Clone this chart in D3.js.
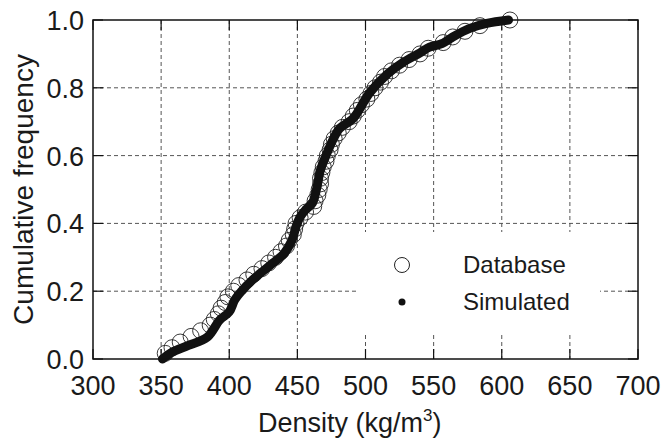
<!DOCTYPE html>
<html>
<head>
<meta charset="utf-8">
<script src="https://cdn.jsdelivr.net/npm/d3@7"></script>
<style>
  body { margin: 0; background: #fff; }
  text { font-family: "Liberation Sans", Arial, sans-serif; fill: #1a1a1a; }
  .grid line { stroke: #555; stroke-width: 1; stroke-dasharray: 4,3; }
</style>
</head>
<body>
<div id="chart"></div>
<script>
//-----------DATA ---------------------------//
// database samples: density (kg/m3), plotted against i/n
var databaseDensity = [353, 358, 364, 372, 379, 386, 389, 392, 394, 397,
                       399, 403, 407, 413, 418, 424, 429, 434, 438, 442,
                       444, 447, 448, 449, 452, 456, 462, 463, 465, 466,
                       467, 467, 468, 469, 471, 472, 474, 475, 477, 480,
                       483, 488, 491, 494, 497, 501, 504, 507, 511, 514,
                       519, 525, 532, 540, 546, 557, 564, 573, 584, 606];
// simulated curve
var simDensity = [351, 358, 370, 384, 393, 400, 404, 409, 417, 425, 432, 440, 446, 449,
                  452, 456, 461, 464, 467, 471, 476, 481, 491, 503, 516, 528, 540, 547,
                  556, 564, 577, 589, 605];
var simFreq    = [0.0, 0.02, 0.04, 0.065, 0.115, 0.139, 0.174, 0.20, 0.233, 0.26, 0.283, 0.31, 0.35, 0.39,
                  0.419, 0.44, 0.46, 0.50, 0.558, 0.60, 0.646, 0.68, 0.71, 0.785, 0.84, 0.876, 0.903, 0.92,
                  0.93, 0.95, 0.976, 0.99, 1.0];
var xTicks = [300, 350, 400, 450, 500, 550, 600, 650, 700];
var yTicks = [0, 0.2, 0.4, 0.6, 0.8, 1.0];

//-----------SETUP ---------------------------//
var W = 662, H = 439;
var margin = {top: 20, right: 24, bottom: 80, left: 93};
var width = W - margin.left - margin.right;   // 545
var height = H - margin.top - margin.bottom;  // 339

var root = d3.select("#chart").append("svg")
    .attr("width", W)
    .attr("height", H);
var svg = root.append("g")
    .attr("transform", "translate(" + margin.left + "," + margin.top + ")");

var x = d3.scaleLinear().domain([300, 700]).range([0, width]);
var y = d3.scaleLinear().domain([0, 1]).range([height, 0]);

//DRAW THE GRID
var grid = svg.append("g").attr("class", "grid");
grid.selectAll(".vg")
    .data(xTicks.slice(1, -1))
    .enter().append("line")
    .attr("x1", function(d) { return x(d); })
    .attr("x2", function(d) { return x(d); })
    .attr("y1", 0)
    .attr("y2", height);
grid.selectAll(".hg")
    .data(yTicks.slice(1, -1))
    .enter().append("line")
    .attr("x1", 0)
    .attr("x2", width)
    .attr("y1", function(d) { return y(d); })
    .attr("y2", function(d) { return y(d); });

//TICKS ON ALL FOUR SIDES (inward)
var tk = 10;
var ticks = svg.append("g").attr("stroke", "#111").attr("stroke-width", 1.2);
xTicks.forEach(function(d) {
  ticks.append("line").attr("x1", x(d)).attr("x2", x(d)).attr("y1", height).attr("y2", height - tk);
  ticks.append("line").attr("x1", x(d)).attr("x2", x(d)).attr("y1", 0).attr("y2", tk);
});
yTicks.forEach(function(d) {
  ticks.append("line").attr("x1", 0).attr("x2", tk).attr("y1", y(d)).attr("y2", y(d));
  ticks.append("line").attr("x1", width).attr("x2", width - tk).attr("y1", y(d)).attr("y2", y(d));
});

//TICK LABELS
svg.append("g").selectAll("text")
    .data(xTicks)
    .enter().append("text")
    .attr("x", function(d) { return x(d); })
    .attr("y", height + 36)
    .attr("text-anchor", "middle")
    .style("font-size", "27px")
    .text(function(d) { return d; });
svg.append("g").selectAll("text")
    .data(yTicks)
    .enter().append("text")
    .attr("x", -9)
    .attr("y", function(d) { return y(d) + 10; })
    .attr("text-anchor", "end")
    .style("font-size", "27px")
    .text(function(d) { return d.toFixed(1); });

//AXIS TITLES
var xt = root.append("text")
    .attr("x", 258)
    .attr("y", 432)
    .style("font-size", "27px");
xt.append("tspan").text("Density (kg/m");
xt.append("tspan").attr("dy", -11).style("font-size", "17px").text("3");
xt.append("tspan").attr("dy", 11).text(")");

root.append("text")
    .attr("transform", "translate(33," + (margin.top + height / 2) + ") rotate(-90)")
    .attr("text-anchor", "middle")
    .style("font-size", "28px")
    .text("Cumulative frequency");

//LEGEND BOX (white, hides grid)
var lg = root.append("g");
lg.append("rect")
    .attr("x", 356).attr("y", 232)
    .attr("width", 244).attr("height", 101)
    .attr("fill", "#fff");

//DATA
var n = databaseDensity.length;
svg.append("g").selectAll("circle")
    .data(databaseDensity)
    .enter().append("circle")
    .attr("cx", function(d) { return x(d); })
    .attr("cy", function(d, i) { return y((i + 1) / n); })
    .attr("r", 8)
    .attr("fill", "none")
    .attr("stroke", "#222")
    .attr("stroke-width", 0.9);

var line = d3.line()
    .x(function(d, i) { return x(simDensity[i]); })
    .y(function(d, i) { return y(simFreq[i]); })
    .curve(d3.curveCatmullRom);
svg.append("path")
    .datum(simDensity)
    .attr("d", line)
    .attr("fill", "none")
    .attr("stroke", "#111")
    .attr("stroke-width", 9)
    .attr("stroke-linecap", "round")
    .attr("stroke-linejoin", "round");

//FRAME
svg.append("rect")
    .attr("width", width).attr("height", height)
    .attr("fill", "none")
    .attr("stroke", "#111")
    .attr("stroke-width", 1.5);

//LEGEND ENTRIES
lg.append("circle").attr("cx", 402).attr("cy", 265).attr("r", 7.5)
    .attr("fill", "none").attr("stroke", "#222").attr("stroke-width", 1);
lg.append("text").attr("x", 463).attr("y", 273).style("font-size", "24px").text("Database");
lg.append("circle").attr("cx", 402).attr("cy", 302).attr("r", 3.5).attr("fill", "#111");
lg.append("text").attr("x", 463).attr("y", 310).style("font-size", "24px").text("Simulated");
</script>
</body>
</html>
